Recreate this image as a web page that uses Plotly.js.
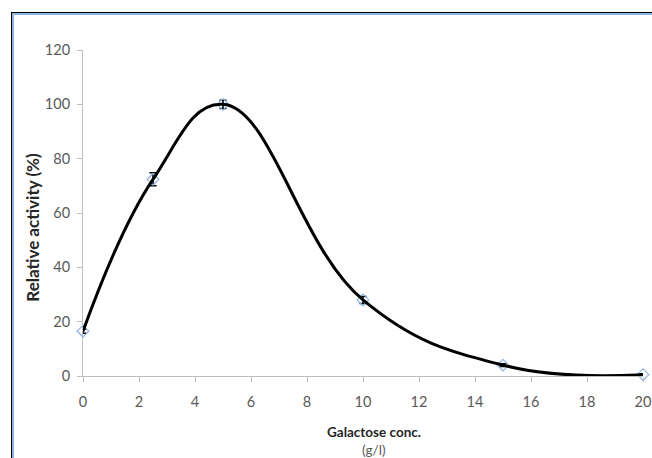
<!DOCTYPE html>
<html>
<head>
<meta charset="utf-8">
<script src="https://cdn.plot.ly/plotly-3.0.1.min.js"></script>
<style>
html,body{margin:0;padding:0;background:#fff;}
#wrap{position:relative;width:652px;height:458px;overflow:hidden;}
#chart{position:absolute;left:0;top:0;width:652px;height:458px;}
#f1{position:absolute;left:11px;top:12px;width:700px;height:500px;border-top:1px solid #000;border-left:1px solid #000;pointer-events:none;}
#f2{position:absolute;left:12px;top:13px;width:700px;height:500px;border-top:2px solid #8db3e2;border-left:2px solid #8db3e2;pointer-events:none;}
</style>
</head>
<body>
<div id="wrap">
<div id="chart"></div>
<div id="f1"></div>
<div id="f2"></div>
</div>
<script>
const galactose = [0, 2.5, 5, 10, 15, 20];
const activity = [16.5, 72.4, 100, 28, 4, 0.5];
const errors = [0.8, 2.4, 1.5, 1.3, 0.5, 0.3];
const xTicks = [0, 2, 4, 6, 8, 10, 12, 14, 16, 18, 20];
const yTicks = [0, 20, 40, 60, 80, 100, 120];

const fam = 'Lato, "Open Sans", sans-serif';
const tickFont = {family: fam, size: 14.5, color: '#595959'};

const traces = [
  {
    x: galactose, y: activity, type: 'scatter', mode: 'markers',
    marker: {symbol: 'diamond-open', size: 9, color: '#8db3e2', line: {width: 1.2, color: '#8db3e2'}},
    error_y: {type: 'data', array: errors, visible: true, color: '#000', thickness: 1.5, width: 3.5},
    cliponaxis: false, hoverinfo: 'skip', showlegend: false
  },
  {
    x: galactose, y: activity, type: 'scatter', mode: 'lines',
    line: {shape: 'spline', smoothing: 1.2, color: '#000', width: 3},
    cliponaxis: false, showlegend: false
  }
];

const layout = {
  width: 652, height: 458,
  margin: {l: 83, r: 9, t: 50, b: 82},
  paper_bgcolor: '#fff', plot_bgcolor: '#fff',
  showlegend: false,
  xaxis: {
    range: [0, 20], tickvals: xTicks, ticktext: xTicks.map(String),
    showgrid: false, zeroline: false, showline: true, linecolor: '#bfbfbf', linewidth: 1,
    ticks: 'outside', ticklen: 5, tickcolor: '#bfbfbf', tickfont: tickFont,
    ticklabelstandoff: 8
  },
  yaxis: {
    range: [0, 120], tickvals: yTicks, ticktext: yTicks.map(String),
    showgrid: false, zeroline: false, showline: true, linecolor: '#bfbfbf', linewidth: 1,
    ticks: 'outside', ticklen: 5, tickcolor: '#bfbfbf', tickfont: tickFont,
    ticklabelstandoff: 4
  },
  annotations: [
    {text: 'Relative activity (%)', xref: 'paper', yref: 'paper', x: 0, xshift: -50, y: 0.455, textangle: -90,
     showarrow: false, font: {family: fam, size: 17, color: '#262626', weight: 'bold'}, xanchor: 'center', yanchor: 'middle'},
    {text: 'Galactose conc.', xref: 'paper', yref: 'paper', x: 0.52, y: 0, yshift: -56,
     showarrow: false, font: {family: fam, size: 13.5, color: '#262626', weight: 'bold'}, xanchor: 'center', yanchor: 'middle'},
    {text: '(g/l)', xref: 'paper', yref: 'paper', x: 0.52, y: 0, yshift: -74,
     showarrow: false, font: {family: fam, size: 13.5, color: '#595959'}, xanchor: 'center', yanchor: 'middle'}
  ]
};

Plotly.newPlot('chart', traces, layout, {displayModeBar: false, staticPlot: true});
</script>
</body>
</html>
